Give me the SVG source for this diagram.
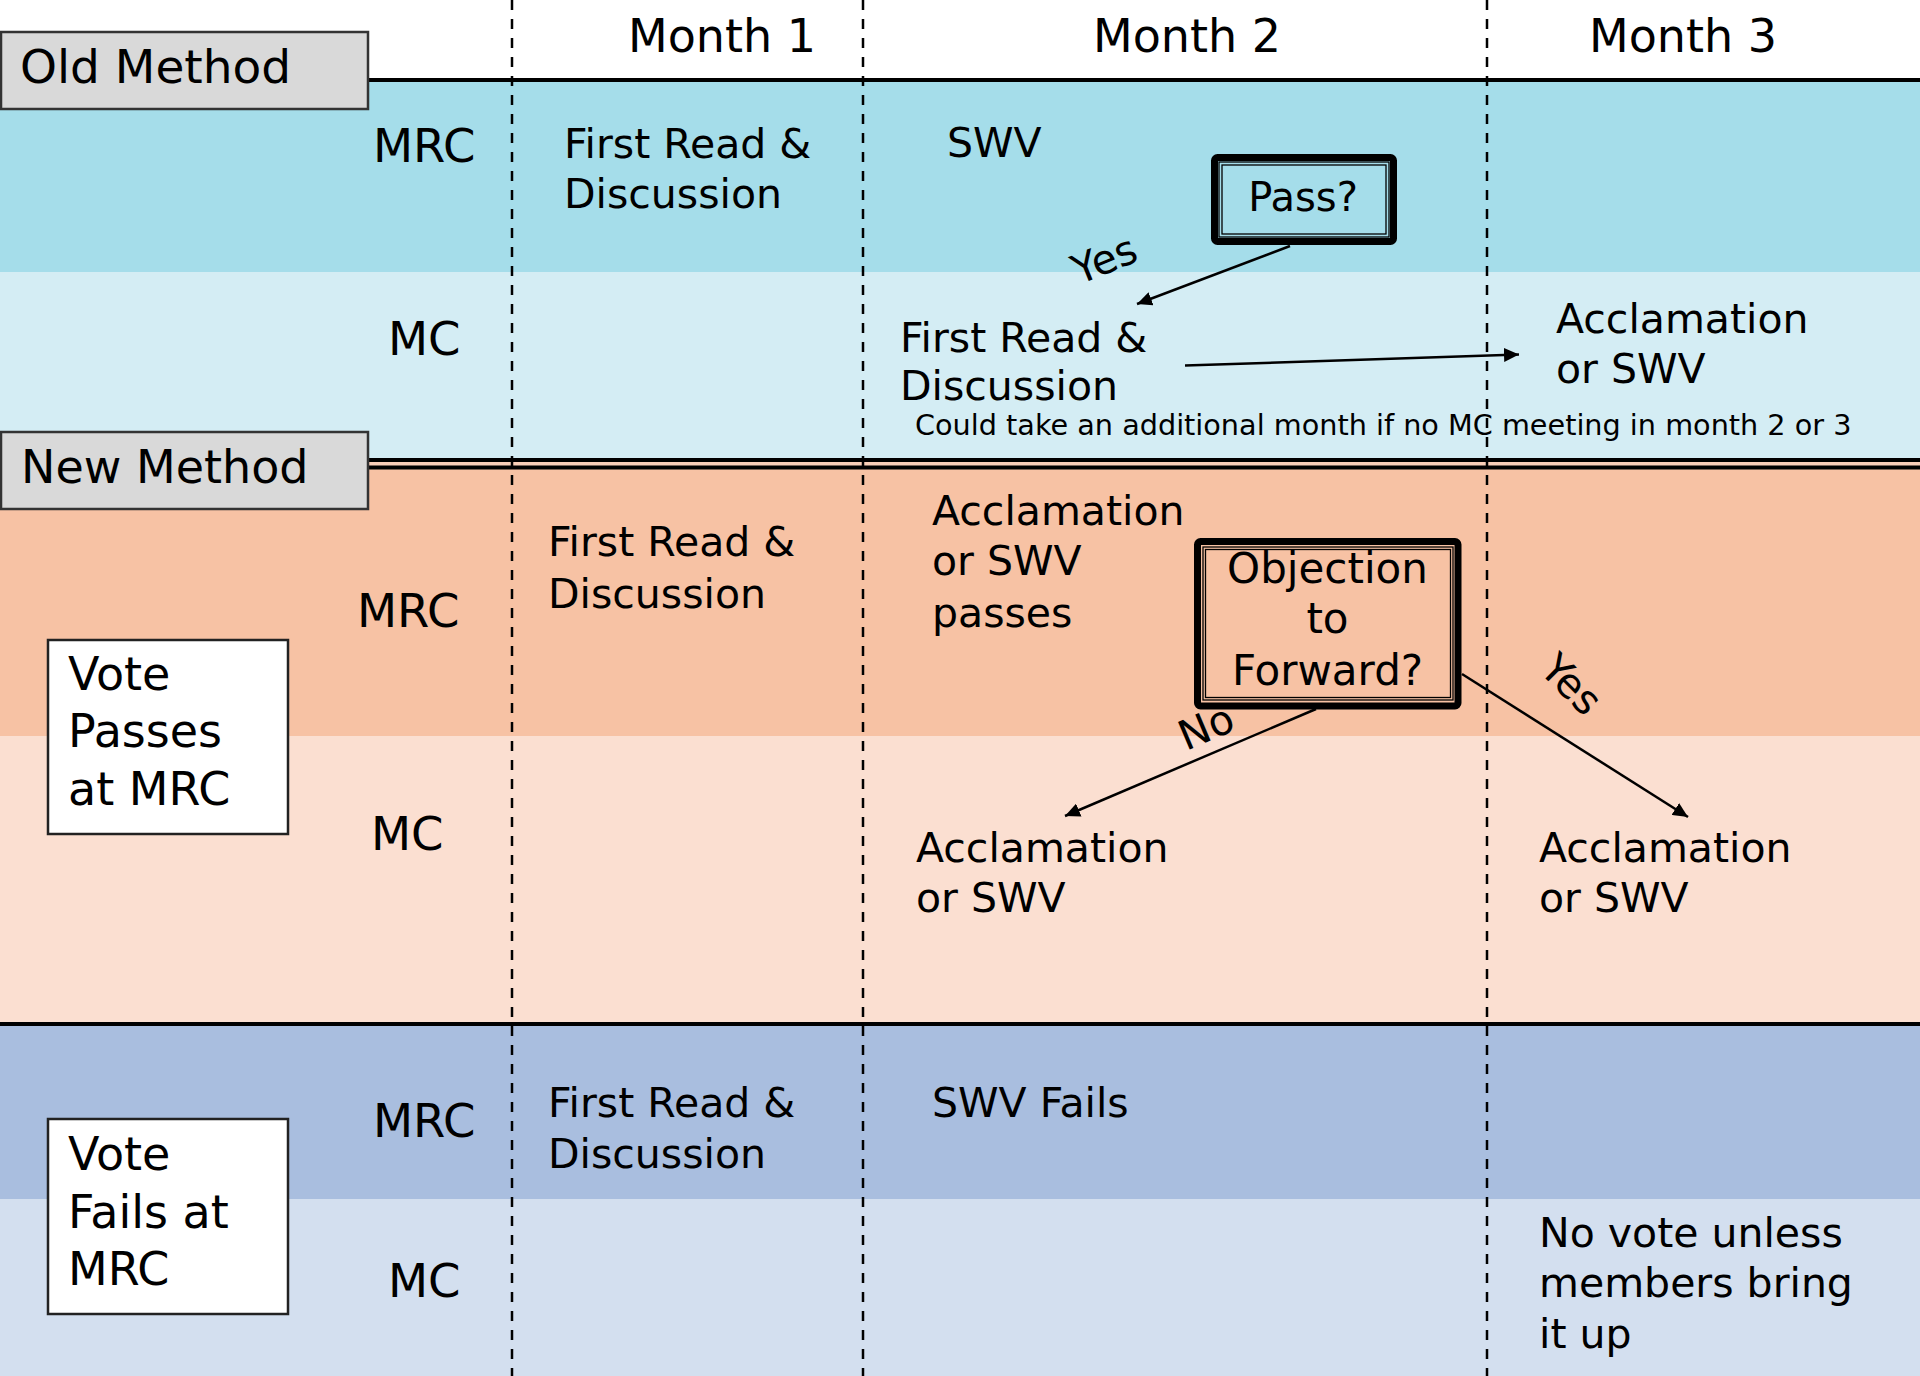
<svg xmlns="http://www.w3.org/2000/svg" width="1920" height="1376" viewBox="0 0 1920 1376">
<defs>
<marker id="ah" markerUnits="userSpaceOnUse" markerWidth="16" markerHeight="14" refX="15" refY="7" orient="auto">
<path d="M0,0 L15,7 L0,14 z" fill="#000"/>
</marker>
<style>
text{font-family:"DejaVu Sans","Liberation Sans",sans-serif;fill:#000}
.h{font-size:46px}
.lab{font-size:46.5px}
.vt{font-size:46px}
.c{font-size:41px}
.note{font-size:28.7px}
.rot{font-size:41px}
.mid{text-anchor:middle}
.vdash{stroke:#000;stroke-width:2.5;stroke-dasharray:10 9;fill:none}
.thick{stroke:#000;stroke-width:4;fill:none}
.conn{stroke:#000;stroke-width:2.5;fill:none;marker-end:url(#ah)}
.method{fill:#D9D9D9;stroke:#333;stroke-width:2.5}
.vbox{fill:#fff;stroke:#222;stroke-width:2.5}
.outer{fill:none;stroke:#000;stroke-width:7}
.thin{fill:none;stroke:#000;stroke-width:1.3}
</style>
</defs>
<rect x="0" y="0" width="1920" height="1376" fill="#fff"/>
<g id="bands">
<rect x="0" y="80" width="1920" height="192" fill="#A5DDEA"/>
<rect x="0" y="272" width="1920" height="188" fill="#D4EDF4"/>
<rect x="0" y="460" width="1920" height="276" fill="#F7C2A4"/>
<rect x="0" y="462" width="1920" height="4" fill="#F9CFB8"/>
<rect x="0" y="736" width="1920" height="288" fill="#FBDFD1"/>
<rect x="0" y="1024" width="1920" height="175" fill="#A9BEDF"/>
<rect x="0" y="1199" width="1920" height="177" fill="#D3DFEF"/>
</g>
<g id="grid">
<line class="vdash" x1="512" y1="0" x2="512" y2="1376"/>
<line class="vdash" x1="863" y1="0" x2="863" y2="1376"/>
<line class="vdash" x1="1487" y1="0" x2="1487" y2="1376"/>
<line class="thick" x1="368" y1="80" x2="1920" y2="80"/>
<line class="thick" x1="368" y1="460" x2="1920" y2="460"/>
<line class="thick" x1="368" y1="467.5" x2="1920" y2="467.5"/>
<line class="thick" x1="0" y1="1024" x2="1920" y2="1024"/>
</g>
<g id="headers">
<text class="h" x="628" y="52">Month 1</text>
<text class="h" x="1093" y="52">Month 2</text>
<text class="h" x="1589" y="52">Month 3</text>
</g>
<g id="old-method">
<rect class="method" x="1" y="32" width="367" height="77"/>
<text style="font-size:47px" x="20" y="83">Old Method</text>
</g>
<g id="new-method">
<rect class="method" x="1" y="432" width="367" height="77"/>
<text style="font-size:46px" x="21" y="483">New Method</text>
</g>
<g id="row-labels">
<text class="lab" x="373" y="162">MRC</text>
<text class="lab" x="388" y="355">MC</text>
<text class="lab" x="357" y="627">MRC</text>
<text class="lab" x="371" y="850">MC</text>
<text class="lab" x="373" y="1137">MRC</text>
<text class="lab" x="388" y="1297">MC</text>
</g>
<g id="vote-passes">
<rect class="vbox" x="48" y="640" width="240" height="194"/>
<text class="vt" x="68" y="690">Vote</text>
<text class="vt" x="68" y="747">Passes</text>
<text class="vt" x="68" y="805">at MRC</text>
</g>
<g id="vote-fails">
<rect class="vbox" x="48" y="1119" width="240" height="195"/>
<text class="vt" x="68" y="1170">Vote</text>
<text class="vt" x="68" y="1228">Fails at</text>
<text class="vt" x="68" y="1285">MRC</text>
</g>
<g id="old-mrc-m1"><text class="c" x="564" y="158">First Read &amp;</text><text class="c" x="564" y="208">Discussion</text></g>
<g id="old-mrc-m2"><text class="c" x="947" y="157">SWV</text></g>
<g id="pass-box">
<rect class="outer" x="1214.5" y="157.5" width="179" height="84" rx="3"/>
<rect class="thin" x="1219" y="162" width="170" height="75"/>
<rect class="thin" x="1222" y="165" width="164" height="69"/>
<text class="mid" style="font-size:40px" x="1303" y="211">Pass?</text>
</g>
<g id="old-mc-m2"><text class="c" x="900" y="352">First Read &amp;</text><text class="c" x="900" y="400">Discussion</text></g>
<g id="old-mc-m3"><text class="c" x="1556" y="333">Acclamation</text><text class="c" x="1556" y="383">or SWV</text></g>
<g id="note"><text class="note" x="915" y="435">Could take an additional month if no MC meeting in month 2 or 3</text></g>
<g id="new-mrc-m1"><text class="c" x="548" y="556">First Read &amp;</text><text class="c" x="548" y="608">Discussion</text></g>
<g id="new-mrc-m2"><text class="c" x="932" y="525">Acclamation</text><text class="c" x="932" y="575">or SWV</text><text class="c" x="932" y="627">passes</text></g>
<g id="objection-box">
<rect class="outer" x="1197.5" y="541.5" width="260.5" height="164.5" rx="3"/>
<rect class="thin" x="1203" y="547" width="250" height="153"/>
<rect class="thin" x="1205.5" y="549.5" width="245" height="148"/>
<text class="mid" style="font-size:42px" x="1327.5" y="583">Objection</text>
<text class="mid" style="font-size:42px" x="1327.5" y="633">to</text>
<text class="mid" style="font-size:42px" x="1327.5" y="685">Forward?</text>
</g>
<g id="new-mc-m2"><text class="c" x="916" y="862">Acclamation</text><text class="c" x="916" y="912">or SWV</text></g>
<g id="new-mc-m3"><text class="c" x="1539" y="862">Acclamation</text><text class="c" x="1539" y="912">or SWV</text></g>
<g id="fail-mrc-m1"><text class="c" x="548" y="1117">First Read &amp;</text><text class="c" x="548" y="1168">Discussion</text></g>
<g id="fail-mrc-m2"><text class="c" x="932" y="1117">SWV Fails</text></g>
<g id="fail-mc-m3"><text class="c" x="1539" y="1247">No vote unless</text><text class="c" x="1539" y="1297">members bring</text><text class="c" x="1539" y="1348">it up</text></g>
<g id="connectors">
<line class="conn" x1="1290" y1="246" x2="1137" y2="304"/>
<line class="conn" x1="1185" y1="365.5" x2="1519" y2="354.5"/>
<line class="conn" x1="1316" y1="709" x2="1065" y2="816"/>
<line class="conn" x1="1462" y1="674" x2="1688" y2="817"/>
<text class="rot" transform="translate(1079,285) rotate(-22)">Yes</text>
<text class="rot" transform="translate(1186,751) rotate(-23)">No</text>
<text class="rot" transform="translate(1538,671) rotate(45)">Yes</text>
</g>
</svg>
